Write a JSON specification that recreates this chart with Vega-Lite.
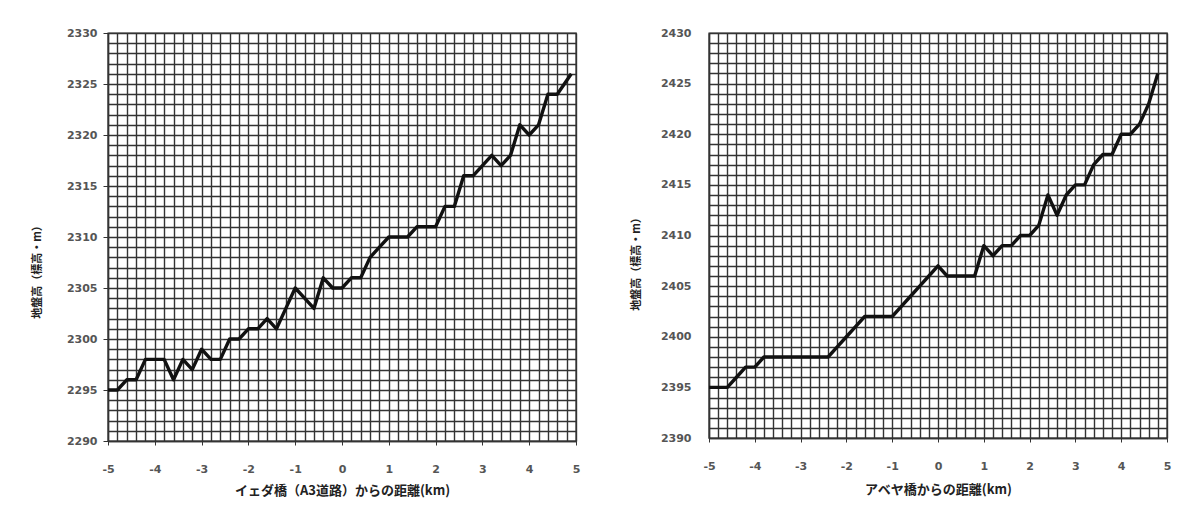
{
  "$schema": "https://vega.github.io/schema/vega-lite/v6.json",
  "background": "white",
  "padding": {"left": 30, "top": 26, "right": 5, "bottom": 5},
  "spacing": 48,
  "config": {
    "view": {"stroke": "#333", "strokeWidth": 1.4},
    "axis": {
      "labelFont": "DejaVu Sans",
      "labelFontSize": 11,
      "labelFontWeight": "bold",
      "labelColor": "#555",
      "titleFont": "Noto Sans CJK JP",
      "titleFontWeight": "bold",
      "titleColor": "#222",
      "gridColor": "#333",
      "gridWidth": 1.4,
      "gridOpacity": 1,
      "domainColor": "#333",
      "domainWidth": 1.4,
      "tickColor": "#333",
      "labelOverlap": false,
      "labelFlush": false,
      "labelBound": false
    }
  },
  "datasets": {
    "left": [
      {"d": -5.0, "h": 2295}, {"d": -4.8, "h": 2295}, {"d": -4.6, "h": 2296}, {"d": -4.4, "h": 2296},
      {"d": -4.2, "h": 2298}, {"d": -4.0, "h": 2298}, {"d": -3.8, "h": 2298}, {"d": -3.6, "h": 2296},
      {"d": -3.4, "h": 2298}, {"d": -3.2, "h": 2297}, {"d": -3.0, "h": 2299}, {"d": -2.8, "h": 2298},
      {"d": -2.6, "h": 2298}, {"d": -2.4, "h": 2300}, {"d": -2.2, "h": 2300}, {"d": -2.0, "h": 2301},
      {"d": -1.8, "h": 2301}, {"d": -1.6, "h": 2302}, {"d": -1.4, "h": 2301}, {"d": -1.2, "h": 2303},
      {"d": -1.0, "h": 2305}, {"d": -0.8, "h": 2304}, {"d": -0.6, "h": 2303}, {"d": -0.4, "h": 2306},
      {"d": -0.2, "h": 2305}, {"d": 0.0, "h": 2305}, {"d": 0.2, "h": 2306}, {"d": 0.4, "h": 2306},
      {"d": 0.6, "h": 2308}, {"d": 0.8, "h": 2309}, {"d": 1.0, "h": 2310}, {"d": 1.2, "h": 2310},
      {"d": 1.4, "h": 2310}, {"d": 1.6, "h": 2311}, {"d": 1.8, "h": 2311}, {"d": 2.0, "h": 2311},
      {"d": 2.2, "h": 2313}, {"d": 2.4, "h": 2313}, {"d": 2.6, "h": 2316}, {"d": 2.8, "h": 2316},
      {"d": 3.0, "h": 2317}, {"d": 3.2, "h": 2318}, {"d": 3.4, "h": 2317}, {"d": 3.6, "h": 2318},
      {"d": 3.8, "h": 2321}, {"d": 4.0, "h": 2320}, {"d": 4.2, "h": 2321}, {"d": 4.4, "h": 2324},
      {"d": 4.6, "h": 2324}, {"d": 4.9, "h": 2326}
    ],
    "right": [
      {"d": -5.0, "h": 2395}, {"d": -4.8, "h": 2395}, {"d": -4.6, "h": 2395}, {"d": -4.4, "h": 2396},
      {"d": -4.2, "h": 2397}, {"d": -4.0, "h": 2397}, {"d": -3.8, "h": 2398}, {"d": -3.6, "h": 2398},
      {"d": -3.4, "h": 2398}, {"d": -3.2, "h": 2398}, {"d": -3.0, "h": 2398}, {"d": -2.8, "h": 2398},
      {"d": -2.6, "h": 2398}, {"d": -2.4, "h": 2398}, {"d": -2.2, "h": 2399}, {"d": -2.0, "h": 2400},
      {"d": -1.8, "h": 2401}, {"d": -1.6, "h": 2402}, {"d": -1.4, "h": 2402}, {"d": -1.2, "h": 2402},
      {"d": -1.0, "h": 2402}, {"d": -0.8, "h": 2403}, {"d": -0.6, "h": 2404}, {"d": -0.4, "h": 2405},
      {"d": -0.2, "h": 2406}, {"d": 0.0, "h": 2407}, {"d": 0.2, "h": 2406}, {"d": 0.4, "h": 2406},
      {"d": 0.6, "h": 2406}, {"d": 0.8, "h": 2406}, {"d": 1.0, "h": 2409}, {"d": 1.2, "h": 2408},
      {"d": 1.4, "h": 2409}, {"d": 1.6, "h": 2409}, {"d": 1.8, "h": 2410}, {"d": 2.0, "h": 2410},
      {"d": 2.2, "h": 2411}, {"d": 2.4, "h": 2414}, {"d": 2.6, "h": 2412}, {"d": 2.8, "h": 2414},
      {"d": 3.0, "h": 2415}, {"d": 3.2, "h": 2415}, {"d": 3.4, "h": 2417}, {"d": 3.6, "h": 2418},
      {"d": 3.8, "h": 2418}, {"d": 4.0, "h": 2420}, {"d": 4.2, "h": 2420}, {"d": 4.4, "h": 2421},
      {"d": 4.6, "h": 2423}, {"d": 4.8, "h": 2426}
    ]
  },
  "hconcat": [
    {
      "width": 468,
      "height": 408,
      "data": {"name": "left"},
      "mark": {"type": "line", "color": "#111", "strokeWidth": 3.4, "strokeJoin": "round"},
      "encoding": {
        "x": {
          "field": "d", "type": "quantitative",
          "scale": {"domain": [-5, 5], "nice": false, "zero": false},
          "axis": {
            "title": "イェダ橋（A3道路）からの距離(km)",
            "titleFontSize": 13,
            "titlePadding": 10,
            "values": [-5, -4.8, -4.6, -4.4, -4.2, -4, -3.8, -3.6, -3.4, -3.2, -3, -2.8, -2.6, -2.4, -2.2, -2, -1.8, -1.6, -1.4, -1.2, -1, -0.8, -0.6, -0.4, -0.2, 0, 0.2, 0.4, 0.6, 0.8, 1, 1.2, 1.4, 1.6, 1.8, 2, 2.2, 2.4, 2.6, 2.8, 3, 3.2, 3.4, 3.6, 3.8, 4, 4.2, 4.4, 4.6, 4.8, 5],
            "labelExpr": "abs(datum.value - round(datum.value)) < 0.001 ? '' + round(datum.value) : ''",
            "tickSize": 4,
            "labelPadding": 18,
            "tickOpacity": {"condition": {"test": "abs(datum.value - round(datum.value)) < 0.001", "value": 1}, "value": 0}
          }
        },
        "y": {
          "field": "h", "type": "quantitative",
          "scale": {"domain": [2290, 2330], "nice": false, "zero": false},
          "axis": {
            "title": "地盤高（標高・m）",
            "titleFontSize": 11,
            "titlePadding": 22,
            "titleY": 236,
            "values": [2290, 2291, 2292, 2293, 2294, 2295, 2296, 2297, 2298, 2299, 2300, 2301, 2302, 2303, 2304, 2305, 2306, 2307, 2308, 2309, 2310, 2311, 2312, 2313, 2314, 2315, 2316, 2317, 2318, 2319, 2320, 2321, 2322, 2323, 2324, 2325, 2326, 2327, 2328, 2329, 2330],
            "labelExpr": "datum.value % 5 == 0 ? '' + datum.value : ''",
            "tickSize": 5,
            "labelPadding": 6,
            "minExtent": 44,
            "maxExtent": 44,
            "tickOpacity": {"condition": {"test": "datum.value % 5 == 0", "value": 1}, "value": 0}
          }
        }
      }
    },
    {
      "width": 458,
      "height": 405,
      "data": {"name": "right"},
      "mark": {"type": "line", "color": "#111", "strokeWidth": 3.4, "strokeJoin": "round"},
      "encoding": {
        "x": {
          "field": "d", "type": "quantitative",
          "scale": {"domain": [-5, 5], "nice": false, "zero": false},
          "axis": {
            "title": "アベヤ橋からの距離(km)",
            "titleFontSize": 13,
            "titlePadding": 12,
            "values": [-5, -4.8, -4.6, -4.4, -4.2, -4, -3.8, -3.6, -3.4, -3.2, -3, -2.8, -2.6, -2.4, -2.2, -2, -1.8, -1.6, -1.4, -1.2, -1, -0.8, -0.6, -0.4, -0.2, 0, 0.2, 0.4, 0.6, 0.8, 1, 1.2, 1.4, 1.6, 1.8, 2, 2.2, 2.4, 2.6, 2.8, 3, 3.2, 3.4, 3.6, 3.8, 4, 4.2, 4.4, 4.6, 4.8, 5],
            "labelExpr": "abs(datum.value - round(datum.value)) < 0.001 ? '' + round(datum.value) : ''",
            "tickSize": 4,
            "labelPadding": 18,
            "tickOpacity": {"condition": {"test": "abs(datum.value - round(datum.value)) < 0.001", "value": 1}, "value": 0}
          }
        },
        "y": {
          "field": "h", "type": "quantitative",
          "scale": {"domain": [2390, 2430], "nice": false, "zero": false},
          "axis": {
            "title": "地盤高（標高・m）",
            "titleFontSize": 11,
            "titlePadding": 20,
            "titleY": 228,
            "values": [2390, 2391, 2392, 2393, 2394, 2395, 2396, 2397, 2398, 2399, 2400, 2401, 2402, 2403, 2404, 2405, 2406, 2407, 2408, 2409, 2410, 2411, 2412, 2413, 2414, 2415, 2416, 2417, 2418, 2419, 2420, 2421, 2422, 2423, 2424, 2425, 2426, 2427, 2428, 2429, 2430],
            "labelExpr": "datum.value % 5 == 0 ? '' + datum.value : ''",
            "tickSize": 5,
            "labelPadding": 13,
            "minExtent": 48,
            "maxExtent": 48,
            "tickOpacity": {"value": 0}
          }
        }
      }
    }
  ]
}
